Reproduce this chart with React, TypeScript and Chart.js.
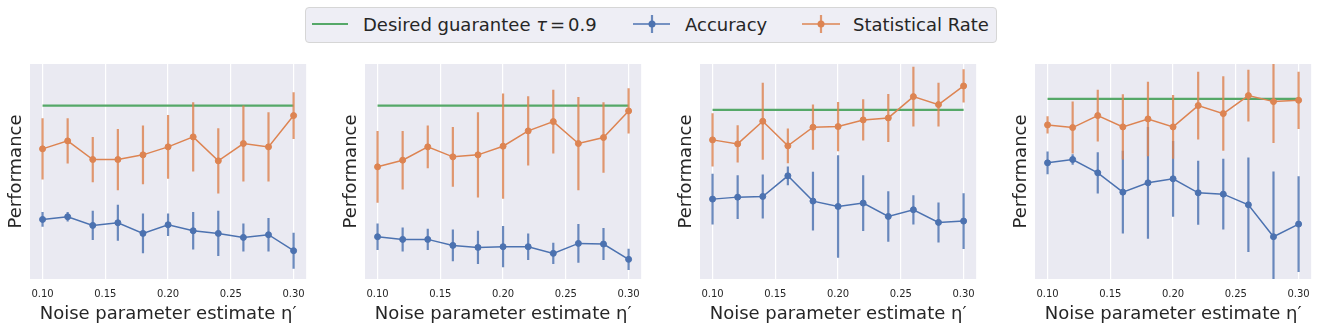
import React, { useEffect, useRef } from "react";
import { Chart, registerables } from "chart.js";

Chart.register(...registerables);

// ---------------- data ----------------
const etaValues = [0.1, 0.12, 0.14, 0.16, 0.18, 0.2, 0.22, 0.24, 0.26, 0.28, 0.3];
const xTickValues = [0.1, 0.15, 0.2, 0.25, 0.3];
const tau = 0.9;

// Panel 1
const accuracy1 = [0.729, 0.733, 0.72, 0.724, 0.708, 0.721, 0.712, 0.708, 0.702, 0.706, 0.682];
const accuracyErr1 = [0.011, 0.007, 0.022, 0.027, 0.03, 0.017, 0.028, 0.034, 0.021, 0.025, 0.027];
const statRate1 = [0.835, 0.847, 0.819, 0.819, 0.826, 0.838, 0.853, 0.817, 0.843, 0.838, 0.885];
const statRateErr1 = [0.046, 0.034, 0.034, 0.046, 0.044, 0.048, 0.052, 0.049, 0.057, 0.052, 0.035];

// Panel 2
const accuracy2 = [0.703, 0.699, 0.699, 0.69, 0.687, 0.688, 0.688, 0.678, 0.693, 0.692, 0.669];
const accuracyErr2 = [0.02, 0.018, 0.016, 0.024, 0.025, 0.031, 0.02, 0.016, 0.029, 0.024, 0.016];
const statRate2 = [0.808, 0.818, 0.838, 0.823, 0.826, 0.839, 0.862, 0.876, 0.843, 0.852, 0.892];
const statRateErr2 = [0.054, 0.044, 0.032, 0.045, 0.064, 0.079, 0.052, 0.048, 0.07, 0.053, 0.034];

// Panel 3
const accuracy3 = [0.766, 0.769, 0.77, 0.801, 0.763, 0.755, 0.76, 0.74, 0.75, 0.731, 0.733];
const accuracyErr3 = [0.038, 0.033, 0.033, 0.014, 0.044, 0.077, 0.042, 0.038, 0.022, 0.03, 0.042];
const statRate3 = [0.855, 0.849, 0.883, 0.846, 0.874, 0.875, 0.885, 0.888, 0.92, 0.908, 0.936];
const statRateErr3 = [0.04, 0.028, 0.058, 0.026, 0.034, 0.037, 0.031, 0.036, 0.045, 0.033, 0.025];

// Panel 4
const accuracy4 = [0.804, 0.809, 0.789, 0.76, 0.774, 0.78, 0.759, 0.757, 0.741, 0.693, 0.712];
const accuracyErr4 = [0.017, 0.008, 0.031, 0.062, 0.084, 0.057, 0.048, 0.053, 0.071, 0.098, 0.072];
const statRate4 = [0.861, 0.857, 0.875, 0.858, 0.87, 0.858, 0.89, 0.878, 0.905, 0.896, 0.898];
const statRateErr4 = [0.013, 0.039, 0.039, 0.049, 0.056, 0.048, 0.051, 0.056, 0.039, 0.062, 0.043];

const yMinValues = [0.6395, 0.6395, 0.646, 0.6295];
const yMaxValues = [0.9625, 0.9625, 0.969, 0.9525];

const panels = [
  { acc: accuracy1, accErr: accuracyErr1, sr: statRate1, srErr: statRateErr1 },
  { acc: accuracy2, accErr: accuracyErr2, sr: statRate2, srErr: statRateErr2 },
  { acc: accuracy3, accErr: accuracyErr3, sr: statRate3, srErr: statRateErr3 },
  { acc: accuracy4, accErr: accuracyErr4, sr: statRate4, srErr: statRateErr4 },
];

// ---------------- styles ----------------
const BLUE = "#4C72B0";
const BLUE_ERR = "rgba(76,114,176,0.82)";
const ORANGE = "#DD8452";
const ORANGE_ERR = "rgba(221,132,82,0.82)";
const GREEN = "#55A868";
const BG = "#EAEAF2";
const TEXT = "#262626";
const FONT = "'DejaVu Sans', sans-serif";

const bgPlugin = {
  id: "plotBackground",
  beforeDraw(chart: any) {
    const { ctx, chartArea } = chart;
    ctx.save();
    ctx.fillStyle = BG;
    ctx.fillRect(chartArea.left, chartArea.top, chartArea.right - chartArea.left, chartArea.bottom - chartArea.top);
    ctx.restore();
  },
};

const errorBarPlugin = {
  id: "errorBars",
  beforeDatasetDraw(chart: any, args: any) {
    const ds = chart.data.datasets[args.index];
    if (!ds.errors) return;
    const { ctx, chartArea, scales } = chart;
    ctx.save();
    ctx.beginPath();
    ctx.rect(chartArea.left, chartArea.top, chartArea.right - chartArea.left, chartArea.bottom - chartArea.top);
    ctx.clip();
    ctx.strokeStyle = ds.errorColor;
    ctx.lineWidth = 2.2;
    ds.data.forEach((p: any, i: number) => {
      const x = scales.x.getPixelForValue(p.x);
      const y1 = scales.y.getPixelForValue(p.y - ds.errors[i]);
      const y2 = scales.y.getPixelForValue(p.y + ds.errors[i]);
      ctx.beginPath();
      ctx.moveTo(x, y1);
      ctx.lineTo(x, y2);
      ctx.stroke();
    });
    ctx.restore();
  },
};

function Panel({ index }: { index: number }) {
  const ref = useRef<HTMLCanvasElement>(null);
  useEffect(() => {
    const p = panels[index];
    const chart = new Chart(ref.current as HTMLCanvasElement, {
      type: "line",
      data: {
        datasets: [
          {
            label: "Statistical Rate",
            data: etaValues.map((x, i) => ({ x, y: p.sr[i] })),
            errors: p.srErr,
            errorColor: ORANGE_ERR,
            borderColor: ORANGE,
            backgroundColor: ORANGE,
            borderWidth: 1.5,
            pointRadius: 3,
            pointBorderWidth: 1,
            pointBorderColor: ORANGE,
            pointBackgroundColor: ORANGE,
            order: 1,
          } as any,
          {
            label: "Accuracy",
            data: etaValues.map((x, i) => ({ x, y: p.acc[i] })),
            errors: p.accErr,
            errorColor: BLUE_ERR,
            borderColor: BLUE,
            backgroundColor: BLUE,
            borderWidth: 1.5,
            pointRadius: 3,
            pointBorderWidth: 1,
            pointBorderColor: BLUE,
            pointBackgroundColor: BLUE,
            order: 2,
          } as any,
          {
            label: "Desired guarantee τ = 0.9",
            data: [
              { x: etaValues[0], y: tau },
              { x: etaValues[etaValues.length - 1], y: tau },
            ],
            borderColor: GREEN,
            backgroundColor: GREEN,
            borderWidth: 2.2,
            pointRadius: 0,
            order: 3,
          } as any,
        ],
      },
      options: {
        animation: false,
        responsive: false,
        maintainAspectRatio: false,
        layout: { padding: { top: 14, right: 6, left: 0, bottom: 0 } },
        plugins: { legend: { display: false }, tooltip: { enabled: false } },
        scales: {
          x: {
            type: "linear",
            min: 0.09,
            max: 0.31,
            afterBuildTicks: (s: any) => {
              s.ticks = xTickValues.map((v) => ({ value: v }));
            },
            afterFit: (s: any) => {
              s.height = 55;
            },
            grid: { color: "#ffffff", lineWidth: 1.2, drawTicks: false },
            border: { display: false },
            ticks: {
              padding: 9,
              color: TEXT,
              font: { family: FONT, size: 10 },
              maxRotation: 0,
              callback: (v: any) => Number(v).toFixed(2),
            },
            title: {
              display: true,
              text: "Noise parameter estimate η′",
              color: TEXT,
              font: { family: FONT, size: 18 },
              padding: { top: 0, bottom: 9 },
            },
          },
          y: {
            type: "linear",
            min: yMinValues[index],
            max: yMaxValues[index],
            afterFit: (s: any) => {
              s.width = 30;
            },
            grid: { display: false },
            border: { display: false },
            ticks: { display: false },
            title: {
              display: true,
              text: "Performance",
              color: TEXT,
              font: { family: FONT, size: 18 },
              padding: { top: 6, bottom: 0 },
            },
          },
        },
      } as any,
      plugins: [bgPlugin, errorBarPlugin],
    });
    return () => chart.destroy();
  }, [index]);
  return (
    <canvas
      ref={ref}
      width={314}
      height={284}
      style={{ position: "absolute", left: 335 * index, top: 50, width: 314, height: 284 }}
    />
  );
}

function Legend() {
  const textStyle: React.CSSProperties = {
    position: "absolute",
    top: 8,
    fontFamily: FONT,
    fontSize: 18,
    lineHeight: "18px",
    color: TEXT,
    whiteSpace: "nowrap",
  };
  return (
    <div
      style={{
        position: "absolute",
        left: 305,
        top: 7,
        width: 692,
        height: 36,
        boxSizing: "border-box",
        background: "#EEEEF5",
        border: "1px solid #D6D6D6",
        borderRadius: 4,
      }}
    >
      <svg
        width={692}
        height={36}
        style={{ position: "absolute", left: -1, top: -1 }}
      >
        <line x1={7} y1={17} x2={43} y2={17} stroke={GREEN} strokeWidth={2.2} />
        <line x1={328} y1={17} x2={365} y2={17} stroke={BLUE} strokeWidth={1.5} />
        <line x1={347} y1={8} x2={347} y2={26} stroke={BLUE_ERR} strokeWidth={2.2} />
        <circle cx={347} cy={17} r={3.5} fill={BLUE} />
        <line x1={497} y1={17} x2={535} y2={17} stroke={ORANGE} strokeWidth={1.5} />
        <line x1={516} y1={8} x2={516} y2={26} stroke={ORANGE_ERR} strokeWidth={2.2} />
        <circle cx={516} cy={17} r={3.5} fill={ORANGE} />
      </svg>
      <span style={{ ...textStyle, left: 57 }}>
        Desired guarantee <span style={{ fontStyle: "italic" }}>τ</span>
        <span style={{ padding: "0 3px" }}>=</span>0.9
      </span>
      <span style={{ ...textStyle, left: 379 }}>Accuracy</span>
      <span style={{ ...textStyle, left: 547 }}>Statistical Rate</span>
    </div>
  );
}

export default function App() {
  return (
    <div style={{ position: "absolute", left: 0, top: 0, width: 1319, height: 334, background: "#ffffff" }}>
      <Legend />
      {panels.map((_, i) => (
        <Panel key={i} index={i} />
      ))}
    </div>
  );
}
